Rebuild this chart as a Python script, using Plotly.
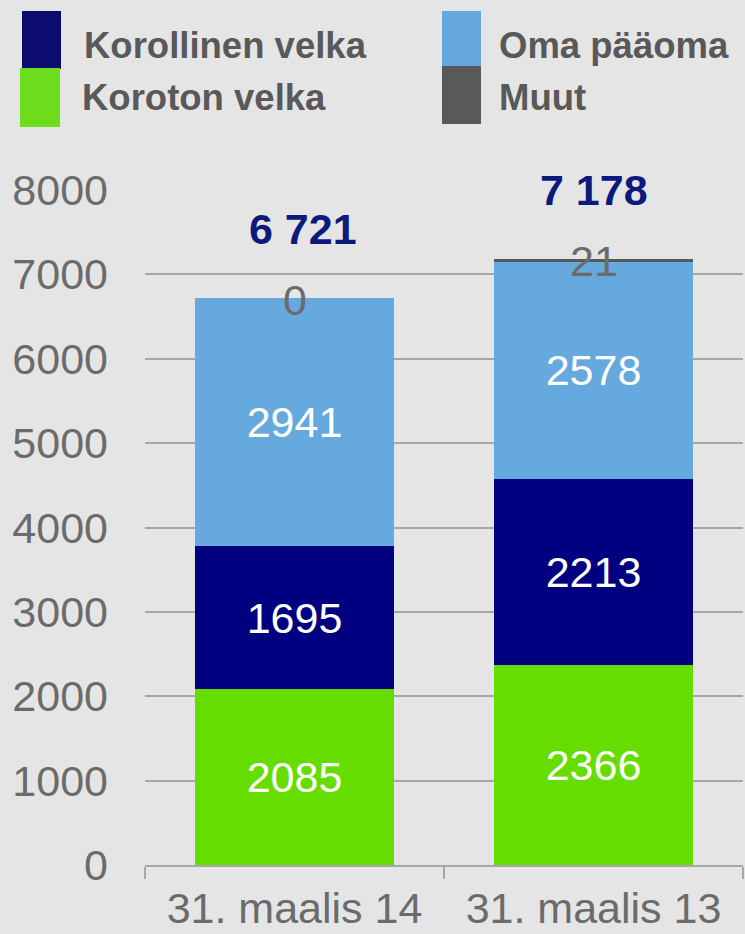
import plotly.graph_objects as go

categories = ["31. maalis 14", "31. maalis 13"]
koroton = [2085, 2366]
korollinen = [1695, 2213]
oma = [2941, 2578]
muut = [0, 21]
totals = [6721, 7178]
total_labels = ["6 721", "7 178"]

W, H = 745, 934
ML, MR, MT, MB = 145, 2, 190, 69
PW, PH = W - ML - MR, H - MT - MB
FONT = "Liberation Sans, Arial, sans-serif"
GRAY = "#6b6b6b"
TOTAL_XSHIFT = [8, 0]


def px(x):
    return (x - ML) / PW


def py(y):
    return (H - MB - y) / PH


fig = go.Figure()
series = [
    ("Koroton velka", koroton, "#66dd00", True),
    ("Korollinen velka", korollinen, "#000080", True),
    ("Oma pääoma", oma, "#66a9de", True),
    ("Muut", muut, "#595959", False),
]
for name, vals, col, lab in series:
    fig.add_trace(go.Bar(
        x=categories, y=vals, name=name, marker=dict(color=col, line=dict(width=0)),
        text=[str(v) for v in vals] if lab else None,
        textposition="inside" if lab else "none",
        insidetextanchor="middle",
        textfont=dict(family=FONT, size=43, color="white"),
        constraintext="none",
        showlegend=False, hoverinfo="skip",
    ))

annotations = []
for c, t, tl, m, xs in zip(categories, totals, total_labels, muut, TOTAL_XSHIFT):
    annotations.append(dict(x=c, y=t, xref="x", yref="y", text=str(m), showarrow=False,
                            yanchor="middle", yshift=-2,
                            font=dict(family=FONT, size=43, color=GRAY)))
    annotations.append(dict(x=c, y=t, xref="x", yref="y", text="<b>%s</b>" % tl, showarrow=False,
                            yanchor="middle", yshift=69, xshift=xs,
                            font=dict(family=FONT, size=43, color="#0b1a7c")))

legend_items = [
    ("Korollinen velka", "#0c0c6e", 22, 61, 11, 69, 82, 45),
    ("Koroton velka", "#6ddd1e", 20, 60, 68, 127, 80, 98),
    ("Oma pääoma", "#66a8dd", 442, 481, 11, 66, 497, 45),
    ("Muut", "#595959", 442, 481, 66, 124, 497, 98),
]
shapes = []
for name, col, x0, x1, y0, y1, tx, ty in legend_items:
    shapes.append(dict(type="rect", xref="paper", yref="paper", x0=px(x0), x1=px(x1),
                       y0=py(y1), y1=py(y0), fillcolor=col, line=dict(width=0), layer="above"))
    annotations.append(dict(xref="paper", yref="paper", x=px(tx), y=py(ty), text="<b>%s</b>" % name,
                            showarrow=False, xanchor="left", yanchor="middle",
                            font=dict(family=FONT, size=36.5, color="#595959")))

fig.update_layout(
    width=W, height=H, margin=dict(l=ML, r=MR, t=MT, b=MB),
    paper_bgcolor="#e5e5e5", plot_bgcolor="#e5e5e5",
    barmode="stack", bargap=0.334,
    annotations=annotations, shapes=shapes,
    xaxis=dict(type="category", showline=True, linecolor="#a6a6a6", linewidth=2,
               ticks="outside", tickson="boundaries", ticklen=12, tickcolor="#a6a6a6", tickwidth=2,
               ticklabelstandoff=4, automargin=False,
               tickfont=dict(family=FONT, size=43, color=GRAY), showgrid=False),
    yaxis=dict(range=[0, 8000], dtick=1000, showgrid=True, gridcolor="#a6a6a6", gridwidth=2,
               zeroline=False, showline=False, ticks="", ticklabelstandoff=36, automargin=False,
               tickfont=dict(family=FONT, size=43, color=GRAY)),
)

fig.write_html("out.html", config={"displayModeBar": False},
               post_script="document.body.style.margin='0';document.body.style.overflow='hidden';")
